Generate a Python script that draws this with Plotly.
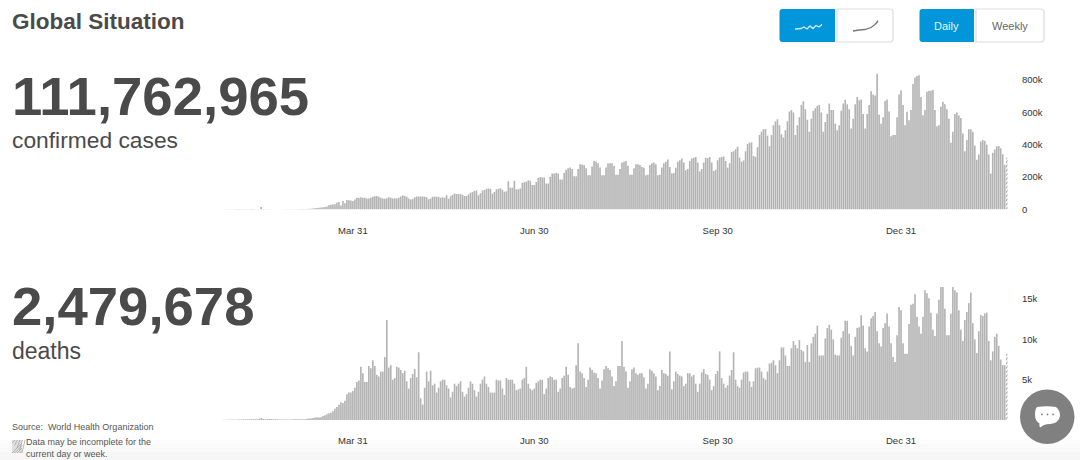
import pandas as pd
import plotly.graph_objects as go

# ---- data (thousands per day), weeks run Sunday..Saturday from 26 Jan 2020 ----
first_day = "2020-01-26"
confirmed_k = [
    .7,.8,1,1.1,1.5,1.8,2,  2.5,2.6,3,3.2,3.5,3.2,2.8,  2.8,2.6,2.2,2,1.8,15,3,
    2,1.8,1.5,1,.7,.6,.8,  .5,.6,.7,.9,1,1.2,1.7,  1.8,2,1.8,2.2,2.6,3,3.5,
    3.5,4,4.5,6,8,10,11,  13,14,16,19,27,29,31,  33,41,47,25,52,38,58,
    57,55,53,62,72,73,75,  73,73,68,68,73,78,82,  84,78,72,68,66,70,76,
    72,68,70,68,72,80,87,  84,78,68,62,65,75,80,  80,80,80,78,76,64,68,
    78,80,78,78,72,76,72,  88,66,82,90,99,95,96,  96,90,84,84,92,104,108,
    115,118,88,100,118,120,128,  130,128,98,108,125,128,132,  122,110,112,175,135,135,178,
    125,125,130,165,168,172,180,  178,152,152,170,195,200,198,  198,160,160,200,222,222,225,
    222,185,185,225,245,255,260,  250,205,205,250,280,278,275,  255,212,212,265,300,295,285,
    260,212,212,260,285,285,285,  270,215,215,250,290,295,300,  270,215,215,255,280,280,275,
    262,258,212,215,275,285,290,  280,212,215,260,285,295,309,  262,222,225,258,295,305,315,
    290,243,250,300,315,320,325,  290,235,250,290,320,318,325,  290,238,245,305,322,325,328,
    300,258,285,355,360,372,388,  320,295,302,360,405,412,414,  330,325,385,460,480,495,498,
    455,390,460,520,545,557,520,  465,445,490,545,605,615,600,  460,520,570,645,668,620,555,
    480,560,610,625,640,645,600,  480,540,590,655,615,615,530,  490,520,610,655,678,650,620,
    500,560,650,695,675,680,590,  500,590,645,730,710,705,838,  585,530,570,670,680,605,452,
    460,460,570,710,735,645,520,  604,552,614,775,816,825,830,  695,583,614,728,733,733,738,
    615,515,520,635,665,650,620,  560,412,480,590,600,580,565,  470,360,430,495,495,480,395,
    308,340,420,430,425,400,340,  222,350,370,390,392,378,342,  276,320,
]
deaths_k = [
    .02,.03,.03,.04,.05,.06,.05,  .06,.07,.07,.08,.08,.09,.09,  .1,.1,.1,.1,.12,.25,.14,
    .1,.1,.12,.12,.1,.08,.09,  .05,.06,.06,.05,.06,.07,.06,  .07,.08,.08,.08,.1,.1,.1,
    .15,.2,.2,.25,.3,.35,.3,  .35,.5,.6,.7,.8,.9,1.1,  1.4,1.6,1.9,2.2,2.1,2.4,3.2,
    3.4,3.4,3.6,4.0,4.7,4.9,6.6,  5.8,4.7,4.7,6.7,6.4,7.4,6.7,  5.6,5.4,6,6,7.8,12.4,6.5,
    6.8,5,5.2,6.6,6.5,6.2,5.8,  6.1,4.8,3.9,5.2,5.7,6.3,5.3,  8.4,2.7,1.9,4,6,4.8,6.1,
    4.3,4.5,3.4,4,4.8,5,5,  4.3,3.9,2.8,3.5,4.5,4.2,4.5,  4.8,3.5,2.9,3.2,4,4.8,4.5,
    3.7,2.9,3.5,4.5,5,5.4,4.5,  4.1,3.4,3.4,3.4,5,4.9,4.9,  3.9,3.1,5.2,5,5,5,4.5,
    3.7,3.8,3.9,5,5.2,6.6,4.5,  3.9,3.7,3.9,4.6,4.8,5,5,  3.2,3.9,5.2,5.4,5.3,5,5,
    3.5,3.9,5.2,5.5,6.6,5.6,4.1,  3.9,4,6.8,9.5,6,5.8,5.2,  4.1,5,6.5,6.2,5.9,5.8,5.2,
    3.9,4.9,6.3,6.7,6.4,6.2,5.4,  4.2,4.8,6.7,6.7,9.8,6.6,6,  4,4.8,6.3,6.5,5.8,5.6,5.8,
    5.8,5.3,3.9,4.5,6.3,6.1,5.8,  5.4,3.7,4.2,6.2,5.8,5.7,5.5,  8.5,3.8,4.8,6,5.7,5.5,5.4,
    4.2,4.5,5.8,5.8,5.4,5.6,4.5,  3.5,4.5,5.9,6.3,5.7,5.6,5,  3.7,4.2,5.7,6.1,8.5,5.2,4.5,
    4,4.3,5.5,6.2,8.4,5,4.2,  4,5,5.9,6,6,4.8,4.1,  4.8,6.4,6.5,6.5,6,5.2,5,
    6,7,7.1,7.4,6.8,5.8,7.4,  9,9,8,6.7,6.7,8.9,9.8,  9.3,8.9,9.9,8.7,8.5,7.2,9.3,
    7.2,9.5,10.3,10.7,11.7,8,8,  8,10.1,11.4,11.8,11.2,10,8.1,  8,8,10.2,11,12.3,12.3,10.7,
    9.2,8,10.3,11.4,11.5,13,11.7,  8.9,8.5,11.6,12.6,12.9,13.4,11,  9.5,9.1,11.4,12,13.2,11.6,9.5,
    7.8,7.2,10.5,14,13.6,9.5,8.2,  8.2,11.9,14.3,14.4,15.6,12.8,11.6,  10.7,12.8,16.1,15.7,15.1,13.3,11.2,
    10.4,13.2,14.9,16.5,16.5,13.8,10.5,  10.5,13.2,16.5,16.1,15.8,13.6,11.2,  9.8,12.4,13.4,14.5,15.8,12,10,
    8.3,11,13,12.9,13.2,13.3,9.8,  7.4,8.5,10.3,10.7,9.2,7.5,6.8,  6.8,8.2,
]
tick_dates = ["2020-03-31", "2020-06-30", "2020-09-30", "2020-12-31"]
tick_labels = ["Mar 31", "Jun 30", "Sep 30", "Dec 31"]
cases_ticks = [0, 200, 400, 600, 800]
cases_tick_labels = ["0", "200k", "400k", "600k", "800k"]
deaths_ticks = [5, 10, 15]
deaths_tick_labels = ["5k", "10k", "15k"]

FONT = "Liberation Sans, Arimo, Helvetica, Arial, sans-serif"
W, H = 1080, 460
BAR = "#b3b3b3"
BLUE = "#0096d9"
TEXT = "#4a4a4a"
dates_c = pd.date_range(first_day, periods=len(confirmed_k))
dates_d = pd.date_range(first_day, periods=len(deaths_k))


def px(x):
    return x / W


def py(y):
    return 1 - y / H


def rounded(x0, y0, x1, y1, left=0, right=0):
    return (f"M{px(x0+left)},{py(y0)} L{px(x1-right)},{py(y0)} Q{px(x1)},{py(y0)} {px(x1)},{py(y0+right)} "
            f"L{px(x1)},{py(y1-right)} Q{px(x1)},{py(y1)} {px(x1-right)},{py(y1)} L{px(x0+left)},{py(y1)} "
            f"Q{px(x0)},{py(y1)} {px(x0)},{py(y1-left)} L{px(x0)},{py(y0+left)} Q{px(x0)},{py(y0)} {px(x0+left)},{py(y0)} Z")


def poly(points, close=False):
    s = "M" + " L".join(f"{px(a)},{py(b)}" for a, b in points)
    return s + (" Z" if close else "")


def bar_trace(x, y, xa, ya):
    n = len(y)
    return go.Bar(
        x=x, y=y, xaxis=xa, yaxis=ya, width=0.82 * 86400000,
        marker=dict(
            color=[BAR] * (n - 1) + ["#ffffff"],
            line_width=0,
            pattern=dict(
                shape=[""] * (n - 1) + ["/"], fgcolor=BAR, bgcolor="#ffffff", size=3, solidity=0.45,
            ),
        ),
        hoverinfo="skip", showlegend=False,
    )


fig = go.Figure()
fig.add_trace(bar_trace(dates_c, confirmed_k, "x", "y"))
fig.add_trace(bar_trace(dates_d, deaths_k, "x2", "y2"))

x_range = ["2020-01-24 08:00", "2021-02-24 16:00"]
xaxis_style = dict(
    type="date", range=x_range, tickmode="array", tickvals=tick_dates, ticktext=tick_labels,
    ticks="outside", ticklen=12, tickcolor="rgba(0,0,0,0)", showgrid=False, zeroline=False,
    showline=False, tickfont=dict(family=FONT, size=9.5, color="#333333"), domain=[px(220), px(1012)],
)
yaxis_style = dict(
    side="right", tickmode="array", ticks="outside", ticklen=7, tickcolor="rgba(0,0,0,0)",
    showgrid=False, zeroline=False, showline=False, tickfont=dict(family=FONT, size=9.5, color="#333333"),
)
# 0 at y=209.5 and 800k at y=80; 0 at y=420 and 15k at y=299
fig.update_layout(
    width=W, height=H, margin=dict(l=0, r=0, t=0, b=0, autoexpand=False), paper_bgcolor="white", plot_bgcolor="rgba(0,0,0,0)",
    bargap=0, barmode="overlay",
    xaxis=dict(xaxis_style, anchor="y"),
    xaxis2=dict(xaxis_style, anchor="y2"),
    yaxis=dict(yaxis_style, anchor="x", domain=[py(209.5), py(66)], range=[0, (209.5 - 66) / (129.5 / 800)],
               tickvals=cases_ticks, ticktext=cases_tick_labels),
    yaxis2=dict(yaxis_style, anchor="x2", domain=[py(420), py(280)], range=[0, 140 / (121 / 15)],
                tickvals=deaths_ticks, ticktext=deaths_tick_labels),
    font=dict(family=FONT),
)

def label(x, y, text, size, color=TEXT, bold=False, anchor="left"):
    fig.add_annotation(
        xref="paper", yref="paper", x=px(x), y=py(y), text=f"<b>{text}</b>" if bold else text, showarrow=False,
        xanchor=anchor, yanchor="middle", align="left",
        font=dict(family=FONT, size=size, color=color), borderpad=0, borderwidth=0,
    )


label(12, 21.5, "Global Situation", 22.5, bold=True)
label(12, 96, "111,762,965", 54.5, bold=True)
label(12, 140, "confirmed cases", 22.8)
label(12, 306, "2,479,678", 54.5, bold=True)
label(12, 351, "deaths", 23)
label(12, 427, "Source:  World Health Organization", 9, color="#555555")
label(26, 447.5, "Data may be incomplete for the<br>current day or week.", 9, color="#555555")
label(946, 26, "Daily", 11, color="#e8f5fc", anchor="center")
label(1010, 26, "Weekly", 11, color="#666666", anchor="center")

shapes = []
# soft fade at the foot of the page
for i, c in enumerate(["#fdfdfd", "#fbfbfb", "#f9f9f9", "#f7f7f7", "#f6f6f6"]):
    shapes.append(dict(type="rect", xref="paper", yref="paper", x0=0, x1=1, y0=py(440 + 4 * i), y1=py(444 + 4 * i),
                       fillcolor=c, line_width=0, layer="below"))
# toggle buttons
shapes += [
    dict(type="path", xref="paper", yref="paper", path=rounded(837, 9, 893, 42, right=3),
         fillcolor="white", line=dict(color="#dddddd", width=1.2)),
    dict(type="path", xref="paper", yref="paper", path=rounded(779.5, 9, 835, 42, left=3), fillcolor=BLUE, line_width=0),
    dict(type="path", xref="paper", yref="paper", path=rounded(976, 9, 1044, 42, right=3),
         fillcolor="white", line=dict(color="#dddddd", width=1.2)),
    dict(type="path", xref="paper", yref="paper", path=rounded(919.5, 9, 974, 42, left=3), fillcolor=BLUE, line_width=0),
    dict(type="path", xref="paper", yref="paper",
         path=poly([(795, 29), (801, 28.5), (804, 27), (807, 29), (810, 26), (813, 28.5), (816, 25.5), (819, 27), (822, 24.5), (820, 26)]),
         line=dict(color="#d6eefa", width=1.3)),
    dict(type="path", xref="paper", yref="paper",
         path=poly([(853, 31), (859, 30), (865, 29.5), (871, 27.5), (875, 24.5), (878, 21), (876.5, 23)]),
         line=dict(color="#777777", width=1.3)),
]
# hatched key swatch
shapes.append(dict(type="rect", xref="paper", yref="paper", x0=px(12), x1=px(22), y0=py(440), y1=py(453),
                   fillcolor="#e0e0e0", line_width=0))
for k in range(5):
    a = 12 + 2.5 * k
    shapes.append(dict(type="line", xref="paper", yref="paper", x0=px(a), y0=py(443 + 2.5 * k), x1=px(a + 3), y1=py(440),
                       line=dict(color="#a8a8a8", width=0.8)))
    shapes.append(dict(type="line", xref="paper", yref="paper", x0=px(a), y0=py(453), x1=px(22), y1=py(443 + 2.5 * k),
                       line=dict(color="#a8a8a8", width=0.8)))
# chat button
shapes += [
    dict(type="circle", xref="paper", yref="paper", x0=px(1020), x1=px(1074.5), y0=py(444), y1=py(389.5),
         fillcolor="#808080", line_width=0),
    dict(type="path", xref="paper", yref="paper", fillcolor="white", line_width=0,
         path=(f"M{px(1037)},{py(407)} Q{px(1047)},{py(405.5)} {px(1056)},{py(407)} Q{px(1060)},{py(410)} {px(1060)},{py(416)} "
               f"Q{px(1059)},{py(423)} {px(1050)},{py(424)} Q{px(1044)},{py(424)} {px(1041)},{py(427)} "
               f"Q{px(1039)},{py(428)} {px(1039.5)},{py(423.5)} Q{px(1035)},{py(421)} {px(1035)},{py(415)} Q{px(1035)},{py(409)} {px(1037)},{py(407)} Z")),
]
for cx in (1042, 1047.5, 1053):
    shapes.append(dict(type="circle", xref="paper", yref="paper", x0=px(cx - 0.9), x1=px(cx + 0.9),
                       y0=py(415.3), y1=py(413.5), fillcolor="#808080", line_width=0))
fig.update_layout(shapes=shapes)

fig.write_html(
    "out.html", config=dict(staticPlot=True),
    post_script="document.body.style.margin='0';document.querySelectorAll('.bars path').forEach(function(p){p.style.shapeRendering='auto';p.setAttribute('shape-rendering','auto');});",
)
